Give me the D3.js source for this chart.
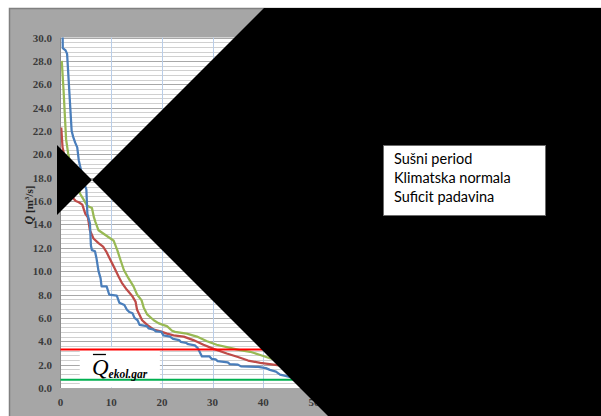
<!DOCTYPE html>
<html>
<head>
<meta charset="utf-8">
<script src="https://cdn.jsdelivr.net/npm/d3@7"></script>
<style>
	body { margin: 0; background: #fff; }
	svg { display: block; }
</style>
</head>
<body>
<div id="chart"></div>
<script>
(function (d3) {

	'use strict';

	// legend / series names
	var seriesNames = ['Sušni period', 'Klimatska normala', 'Suficit padavina'];
	var seriesColors = ['#4a7ebb', '#be4b48', '#98b954'];

	// duration curves: [x, Q m3/s]
	var susniPeriod = [
		[0.4, 31], [0.45, 29.1], [1.0, 28.9], [1.3, 28.6], [2.2, 22.0], [2.5, 21.5],
		[2.9, 21.0], [3.3, 20.6], [3.6, 19.5], [4.6, 17.6], [5.1, 17.0], [5.3, 14.9],
		[5.8, 14.1], [6.0, 12.2], [6.2, 11.8], [6.8, 11.7], [7.1, 11.1], [7.5, 10.0],
		[7.9, 9.4], [8.1, 8.7], [9.1, 8.7], [9.6, 8.0], [11.1, 7.9], [11.6, 7.3],
		[12.6, 7.1], [13.1, 6.7], [13.6, 6.5], [14.2, 6.4], [14.6, 6.0], [15.2, 5.8],
		[15.6, 5.4], [17.0, 5.3], [17.4, 5.1], [18.4, 5.0], [18.8, 4.85], [19.9, 4.8],
		[20.3, 4.5], [21.6, 4.4], [22.2, 4.2], [23.4, 4.1], [23.7, 3.95], [24.8, 3.85],
		[25.2, 3.75], [26.5, 3.65], [27.1, 3.4], [27.9, 2.7], [29.4, 2.7], [29.8, 2.5],
		[30.6, 2.45], [31.0, 2.3], [33.0, 2.2], [33.4, 2.05], [35.0, 2.0], [35.6, 1.85],
		[39.0, 1.8], [40.5, 1.7], [41.3, 1.55], [42.5, 1.4], [43.3, 1.15], [44.8, 1.0],
		[45.5, 0.9], [47, 0.85], [50, 0.75]
	];
	var klimatskaNormala = [
		[0.15, 22.3], [0.4, 20.6], [1.0, 19.4], [1.8, 17.4], [2.6, 16.2], [3.0, 16.0],
		[3.6, 15.9], [4.3, 15.7], [4.9, 14.9], [5.4, 14.6], [5.8, 13.5], [6.5, 12.8],
		[7.5, 12.4], [8.4, 12.1], [9.0, 11.7], [9.8, 11.0], [10.5, 10.4], [11.5, 9.5],
		[12.1, 9.0], [13.1, 8.4], [14.1, 7.9], [14.8, 7.4], [15.1, 6.7], [16.1, 5.8],
		[17.1, 5.4], [18.4, 5.0], [19.7, 4.85], [21.0, 4.65], [22.3, 4.5], [24.3, 4.4],
		[26.2, 4.1], [28.2, 3.7], [30.2, 3.35], [32.8, 2.95], [35.0, 2.65], [37.0, 2.35],
		[39.4, 2.15], [42.0, 2.0], [44.6, 1.85], [47, 1.75], [50, 1.6]
	];
	var suficitPadavina = [
		[0.25, 28.0], [0.6, 25.5], [1.1, 21.3], [1.5, 20.1], [2.5, 18.0], [3.5, 17.0],
		[3.9, 16.6], [4.6, 16.1], [5.25, 15.6], [6.2, 15.4], [6.6, 14.6], [6.9, 14.2],
		[7.5, 13.5], [8.5, 13.2], [9.5, 12.9], [10.5, 12.6], [11.2, 11.8], [11.8, 11.0],
		[12.5, 10.1], [13.4, 9.4], [14.4, 8.7], [15.1, 8.0], [16.0, 7.5], [16.4, 6.9],
		[17.1, 6.3], [18.4, 5.8], [19.3, 5.55], [20.2, 5.4], [21.0, 5.3], [22.0, 4.9],
		[22.6, 4.8], [24.9, 4.65], [26.9, 4.4], [28.9, 4.0], [30.8, 3.7], [32.8, 3.5],
		[35.4, 3.25], [37.4, 3.1], [39.4, 2.82], [41.3, 2.55], [43.5, 2.3], [46, 2.1],
		[50, 1.9]
	];

	// horizontal reference flows
	var refValues = [3.3, 0.7];
	var refColors = ['#ff0000', '#00b050'];

	var xTicks = [0, 10, 20, 30, 40, 50, 60, 70, 80, 90, 100];
	var yTicks = [0, 2, 4, 6, 8, 10, 12, 14, 16, 18, 20, 22, 24, 26, 28, 30];

	var width = 601;
	var height = 416;
	var plot = { left: 60.5, top: 37.5, right: 567.5, bottom: 388 };

	var svg = d3.select('#chart')
		.append('svg')
		.attr('width', width)
		.attr('height', height);

	// chart area
	svg.append('rect')
		.attr('x', 9).attr('y', 8)
		.attr('width', width - 9).attr('height', height - 8)
		.attr('fill', '#a6a6a6');
	svg.append('path')
		.attr('d', 'M9.5,' + height + 'V8.5H' + width)
		.attr('fill', 'none')
		.attr('stroke', '#808080')
		.attr('stroke-width', 1.5);

	var x = d3.scaleLinear().domain([0, 100]).range([plot.left, plot.right]);
	var y = d3.scaleLinear().domain([0, 30]).range([plot.bottom, plot.top]);

	svg.append('rect')
		.attr('x', plot.left).attr('y', plot.top)
		.attr('width', plot.right - plot.left)
		.attr('height', plot.bottom - plot.top)
		.attr('fill', '#fff');

	// minor + major horizontal grid
	var minor = d3.range(0, 30.01, 0.4);
	svg.append('g').selectAll('line')
		.data(minor)
		.enter().append('line')
		.attr('x1', plot.left).attr('x2', plot.right)
		.attr('y1', function (d) { return Math.round(y(d)) + 0.5; })
		.attr('y2', function (d) { return Math.round(y(d)) + 0.5; })
		.attr('stroke', '#d0d0d0');

	svg.append('g').selectAll('line')
		.data(yTicks)
		.enter().append('line')
		.attr('x1', plot.left).attr('x2', plot.right)
		.attr('y1', function (d) { return Math.round(y(d)) + 0.5; })
		.attr('y2', function (d) { return Math.round(y(d)) + 0.5; })
		.attr('stroke', '#a8a8a8');

	svg.append('g').selectAll('line')
		.data(xTicks.slice(1))
		.enter().append('line')
		.attr('x1', function (d) { return Math.round(x(d)) + 0.5; })
		.attr('x2', function (d) { return Math.round(x(d)) + 0.5; })
		.attr('y1', plot.top).attr('y2', plot.bottom)
		.attr('stroke', '#b9cde8');

	svg.append('line')
		.attr('x1', plot.left).attr('x2', plot.left)
		.attr('y1', plot.top).attr('y2', plot.bottom)
		.attr('stroke', '#8c8c8c');

	// Q ekol box
	svg.append('rect')
		.attr('x', x(3.8)).attr('y', y(3.5))
		.attr('width', x(19.6) - x(3.8))
		.attr('height', y(0.05) - y(3.5))
		.attr('fill', '#fff');

	// axis labels
	svg.append('g').selectAll('text')
		.data(yTicks)
		.enter().append('text')
		.attr('x', 52)
		.attr('y', function (d) { return y(d) + 4; })
		.attr('text-anchor', 'end')
		.attr('font-family', 'Liberation Serif')
		.attr('font-size', 11)
		.attr('font-weight', 'bold')
		.attr('fill', '#3a3a3a')
		.text(function (d) { return d3.format('.1f')(d); });

	svg.append('g').selectAll('text')
		.data(xTicks)
		.enter().append('text')
		.attr('x', function (d) { return x(d); })
		.attr('y', 406)
		.attr('text-anchor', 'middle')
		.attr('font-family', 'Liberation Serif')
		.attr('font-size', 11)
		.attr('font-weight', 'bold')
		.attr('fill', '#3a3a3a')
		.text(function (d) { return d; });

	var yTitle = svg.append('text')
		.attr('transform', 'translate(33,205) rotate(-90)')
		.attr('text-anchor', 'middle')
		.attr('font-family', 'Liberation Serif')
		.attr('font-size', 11)
		.attr('font-weight', 'bold')
		.attr('fill', '#222');
	yTitle.append('tspan').attr('font-style', 'italic').attr('font-size', 12).text('Q');
	yTitle.append('tspan').text(' [m');
	yTitle.append('tspan').attr('font-size', 7).attr('dy', -4).text('3');
	yTitle.append('tspan').attr('dy', 4).text('/s]');

	// curves
	svg.append('clipPath').attr('id', 'plotClip')
		.append('rect')
		.attr('x', plot.left).attr('y', plot.top)
		.attr('width', plot.right - plot.left)
		.attr('height', plot.bottom - plot.top);

	var line = d3.line()
		.x(function (d) { return x(d[0]); })
		.y(function (d) { return y(d[1]); });

	var series = [susniPeriod, klimatskaNormala, suficitPadavina];
	var curves = svg.append('g').attr('clip-path', 'url(#plotClip)');

	// drawn green, red, blue so blue sits on top
	[2, 1, 0].forEach(function (i) {
		curves.append('path')
			.datum(series[i])
			.attr('d', line)
			.attr('fill', 'none')
			.attr('stroke', seriesColors[i])
			.attr('stroke-width', 2.25)
			.attr('stroke-linejoin', 'round');
	});

	refValues.forEach(function (v, i) {
		svg.append('line')
			.attr('x1', plot.left).attr('x2', plot.right)
			.attr('y1', y(v)).attr('y2', y(v))
			.attr('stroke', refColors[i])
			.attr('stroke-width', 2);
	});

	// Q-bar ekol.gar label
	var qx = x(6.4);
	svg.append('line')
		.attr('x1', qx).attr('x2', qx + 13)
		.attr('y1', 354.5).attr('y2', 354.5)
		.attr('stroke', '#000').attr('stroke-width', 1.3);
	var qLabel = svg.append('text')
		.attr('x', qx - 1).attr('y', 375)
		.attr('font-family', 'Liberation Serif')
		.attr('font-style', 'italic')
		.attr('fill', '#000');
	qLabel.append('tspan').attr('font-size', 23).text('Q');
	qLabel.append('tspan').attr('font-size', 11.5).attr('font-weight', 'bold')
		.attr('dy', 3).text('ekol.gar');

	// black masking shapes over the picture
	var apex = [92, 180];
	svg.append('path')
		.attr('d', 'M' + apex + 'L' + [apex[0] + (apex[1] - 8), 8] + 'H' + width +
			'V' + height + 'H' + (apex[0] + (height - apex[1])) + 'Z')
		.attr('fill', '#000');
	svg.append('path')
		.attr('d', 'M' + apex + 'L' + [57, apex[1] - 35] + 'V' + (apex[1] + 35) + 'Z')
		.attr('fill', '#000');

	// legend (text only)
	svg.append('rect')
		.attr('x', 383.5).attr('y', 145.5)
		.attr('width', 162).attr('height', 70)
		.attr('fill', '#fff')
		.attr('stroke', '#6b6b6b');

	svg.append('g').selectAll('text')
		.data(seriesNames)
		.enter().append('text')
		.attr('x', 394)
		.attr('y', function (d, i) { return 164 + i * 19; })
		.attr('font-family', 'Lato')
		.attr('font-size', 14.5)
		.attr('fill', '#000')
		.text(function (d) { return d; });

})(d3);
</script>
</body>
</html>
